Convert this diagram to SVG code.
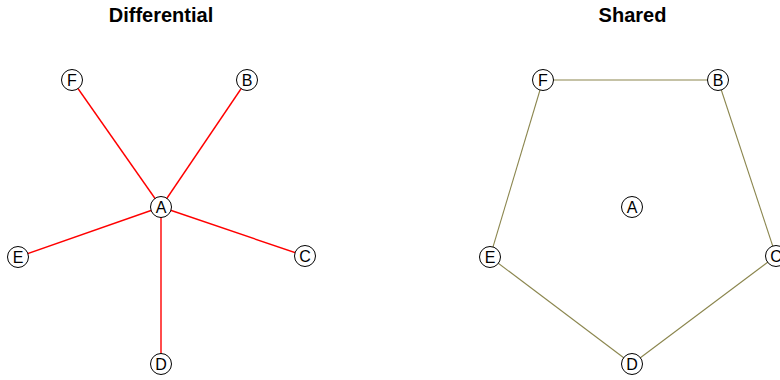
<svg xmlns="http://www.w3.org/2000/svg" width="780" height="380" viewBox="0 0 780 380">
<style>
.title{font-family:"Liberation Sans",Arial,sans-serif;font-weight:bold;font-size:20px;text-anchor:middle}
.node circle{fill:#fff;stroke:#000;stroke-width:1}
.node text{font-family:"Liberation Sans",Arial,sans-serif;font-size:16px;text-anchor:middle;dominant-baseline:central}
.red line{stroke:#ff0000;stroke-width:1.4}
.olive line{stroke:#8b864e;stroke-width:1.1}
</style>
<rect width="780" height="380" fill="#fff"/>
<text class="title" x="161" y="22">Differential</text>
<text class="title" x="632.5" y="22">Shared</text>
<g id="edges-left" class="red">
<line x1="161" y1="207" x2="247" y2="80"/>
<line x1="161" y1="207" x2="72" y2="80"/>
<line x1="161" y1="207" x2="18" y2="257"/>
<line x1="161" y1="207" x2="305" y2="256"/>
<line x1="161" y1="207" x2="161" y2="364"/>
</g>
<g id="edges-right" class="olive">
<line x1="543" y1="80" x2="718" y2="80"/>
<line x1="718" y1="80" x2="776" y2="256"/>
<line x1="776" y1="256" x2="632" y2="364"/>
<line x1="632" y1="364" x2="490" y2="257"/>
<line x1="490" y1="257" x2="543" y2="80"/>
</g>
<g id="L-A" class="node"><circle cx="161" cy="207" r="10.5"/><text x="161" y="207">A</text></g>
<g id="L-B" class="node"><circle cx="247" cy="80" r="10.5"/><text x="247" y="80">B</text></g>
<g id="L-C" class="node"><circle cx="305" cy="256" r="10.5"/><text x="305" y="256">C</text></g>
<g id="L-D" class="node"><circle cx="161" cy="364" r="10.5"/><text x="161" y="364">D</text></g>
<g id="L-E" class="node"><circle cx="18" cy="257" r="10.5"/><text x="18" y="257">E</text></g>
<g id="L-F" class="node"><circle cx="72" cy="80" r="10.5"/><text x="72" y="80">F</text></g>
<g id="R-A" class="node"><circle cx="632" cy="207" r="10.5"/><text x="632" y="207">A</text></g>
<g id="R-B" class="node"><circle cx="718" cy="80" r="10.5"/><text x="718" y="80">B</text></g>
<g id="R-C" class="node"><circle cx="776" cy="256" r="10.5"/><text x="776" y="256">C</text></g>
<g id="R-D" class="node"><circle cx="632" cy="364" r="10.5"/><text x="632" y="364">D</text></g>
<g id="R-E" class="node"><circle cx="490" cy="257" r="10.5"/><text x="490" y="257">E</text></g>
<g id="R-F" class="node"><circle cx="543" cy="80" r="10.5"/><text x="543" y="80">F</text></g>
</svg>
